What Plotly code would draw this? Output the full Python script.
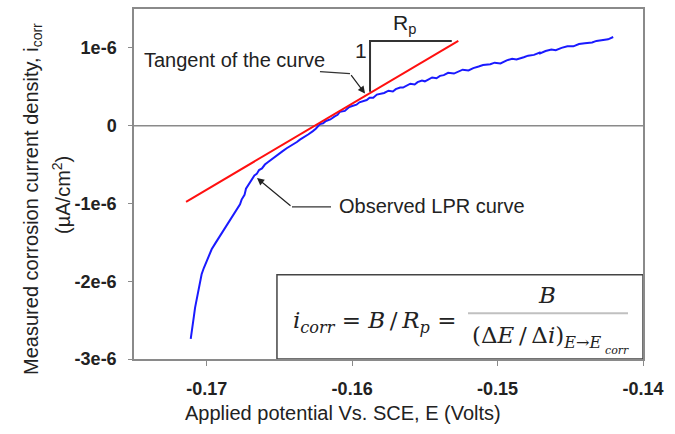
import plotly.graph_objects as go

# Observed LPR curve: applied potential (V) and current density (units of 1e-6)
lpr_E = [-0.1711, -0.17105, -0.1710, -0.17088, -0.1708, -0.17068, -0.1706, -0.17048, -0.17035,
         -0.1702, -0.1700, -0.16985, -0.16966, -0.1694, -0.1692, -0.1689, -0.16863, -0.1684,
         -0.1682, -0.1680, -0.16771, -0.1676, -0.1674, -0.1673, -0.16714, -0.1670, -0.1669,
         -0.16672, -0.16656, -0.1664, -0.1662, -0.1660, -0.1658, -0.1656, -0.1654, -0.16519,
         -0.1650, -0.1648, -0.1645, -0.1643, -0.1640, -0.1638, -0.16359, -0.1633, -0.1630,
         -0.1627, -0.1625, -0.16221, -0.1620, -0.1618, -0.1615, -0.1612, -0.1610, -0.16084,
         -0.1605, -0.1602, -0.1600, -0.1597, -0.1595, -0.1593, -0.1590, -0.1588, -0.15855,
         -0.1583, -0.1580, -0.1578, -0.1575, -0.1572, -0.1570, -0.1567, -0.1565, -0.15625,
         -0.1560, -0.1557, -0.1555, -0.1552, -0.1550, -0.1548, -0.1545, -0.1542, -0.15396,
         -0.1537, -0.1534, -0.1530, -0.1527, -0.1524, -0.1520, -0.15167, -0.1513, -0.1510,
         -0.1505, -0.1502, -0.1498, -0.14937, -0.1490, -0.1487, -0.1482, -0.1479, -0.1475,
         -0.1471, -0.14708, -0.1467, -0.1463, -0.1460, -0.1456, -0.1452, -0.14479, -0.1444,
         -0.1440, -0.1435, -0.1432, -0.1428, -0.1424, -0.14205]
lpr_i = [-2.74, -2.66, -2.58, -2.45, -2.34, -2.22, -2.13, -2.02, -1.91,
         -1.83, -1.74, -1.66, -1.59, -1.51, -1.45, -1.36, -1.28, -1.21,
         -1.15, -1.08, -1.01, -0.95, -0.89, -0.81, -0.76, -0.72, -0.70,
         -0.64, -0.62, -0.57, -0.55, -0.50, -0.47, -0.44, -0.41, -0.38,
         -0.35, -0.33, -0.29, -0.27, -0.23, -0.21, -0.18, -0.15, -0.11,
         -0.07, -0.04, 0.02, 0.03, 0.06, 0.08, 0.12, 0.14, 0.18,
         0.19, 0.24, 0.25, 0.27, 0.30, 0.31, 0.33, 0.36, 0.36,
         0.40, 0.41, 0.42, 0.45, 0.44, 0.47, 0.49, 0.49, 0.51,
         0.54, 0.53, 0.56, 0.58, 0.57, 0.59, 0.62, 0.61, 0.64,
         0.65, 0.68, 0.67, 0.70, 0.72, 0.71, 0.74, 0.76, 0.78,
         0.79, 0.81, 0.80, 0.84, 0.86, 0.85, 0.88, 0.90, 0.91,
         0.94, 0.93, 0.96, 0.98, 0.97, 1.00, 1.02, 1.02, 1.05,
         1.06, 1.07, 1.09, 1.10, 1.11, 1.14]

# Tangent line of the curve
tangent_E = [-0.17142, -0.1527]
tangent_i = [-0.98, 1.09]

# Slope triangle (1 over Rp)
tri_E = [-0.15877, -0.15877, -0.15315]
tri_i = [0.435, 1.087, 1.087]

# Formula box corners
box_E = [-0.16517, -0.140]
box_i = [-3.0, -1.918]

x_ticks = [-0.17, -0.16, -0.15, -0.14]
x_ticktext = ["-0.17", "-0.16", "-0.15", "-0.14"]
y_ticks = [-3, -2, -1, 0, 1]
y_ticktext = ["-3e-6", "-2e-6", "-1e-6", "0", "1e-6"]

W, H = 675, 434
L, R, T, B = 134, 32, 7, 75
PW, PH = W - L - R, H - T - B


def px(xp):
    return (xp - L) / PW


def py(yp):
    return (H - B - yp) / PH


SANS = "Liberation Sans, Arial, sans-serif"
SERIF = "DejaVu Serif, Cambria, serif"
TXT = "#222222"
TS = "\u2009"  # thin space

fig = go.Figure()
fig.add_trace(go.Scatter(x=lpr_E, y=lpr_i, mode="lines",
                         line=dict(color="#1a1aff", width=2), showlegend=False))
fig.add_trace(go.Scatter(x=tangent_E, y=tangent_i, mode="lines",
                         line=dict(color="#ff1010", width=2), showlegend=False))
fig.add_trace(go.Scatter(x=tri_E, y=tri_i, mode="lines",
                         line=dict(color="#333333", width=2), showlegend=False))

shapes = [
    dict(type="line", xref="paper", yref="y", x0=0, x1=1, y0=0, y1=0,
         line=dict(color="#8a8a8a", width=1.5), layer="below"),
    dict(type="rect", xref="x", yref="y", x0=box_E[0], x1=box_E[1], y0=box_i[0], y1=box_i[1],
         line=dict(color="#444444", width=1.5)),
    # leader lines for arrows
    dict(type="line", xref="paper", yref="paper", x0=px(320), x1=px(350), y0=py(70), y1=py(72),
         line=dict(color="#333333", width=1.2)),
    dict(type="line", xref="paper", yref="paper", x0=px(292), x1=px(331), y0=py(206), y1=py(206),
         line=dict(color="#333333", width=1.2)),
    # fraction bar
    dict(type="line", xref="paper", yref="paper", x0=px(468), x1=px(628), y0=py(313), y1=py(313),
         line=dict(color="#c0c0c0", width=2)),
]

annotations = [
    # axis titles
    dict(text="Applied potential Vs. SCE, E (Volts)", xref="paper", yref="paper",
         x=px(343), y=py(413), showarrow=False, font=dict(family=SANS, size=20, color=TXT),
         xanchor="center", yanchor="middle"),
    dict(text="Measured corrosion current density, i<sub>corr</sub>", xref="paper", yref="paper",
         x=px(33), y=py(198), textangle=-90, showarrow=False,
         font=dict(family=SANS, size=20, color=TXT), xanchor="center", yanchor="middle"),
    dict(text="(µA/cm<sup>2</sup>)", xref="paper", yref="paper",
         x=px(62), y=py(194), textangle=-90, showarrow=False,
         font=dict(family=SANS, size=20, color=TXT), xanchor="center", yanchor="middle"),
    # triangle labels
    dict(text="R<sub>p</sub>", xref="paper", yref="paper", x=px(404), y=py(22),
         showarrow=False, font=dict(family=SANS, size=21, color=TXT), xanchor="center", yanchor="middle"),
    dict(text="1", xref="paper", yref="paper", x=px(361), y=py(49),
         showarrow=False, font=dict(family=SANS, size=21, color=TXT), xanchor="center", yanchor="middle"),
    # callouts
    dict(text="Tangent of the curve", xref="paper", yref="paper", x=px(142), y=py(58),
         showarrow=False, font=dict(family=SANS, size=20, color=TXT), xanchor="left", yanchor="middle"),
    dict(text="", xref="paper", yref="paper", x=px(365), y=py(92), ax=-15, ay=-20,
         showarrow=True, arrowhead=2, arrowsize=1.2, arrowwidth=1.2, arrowcolor="#222222"),
    dict(text="Observed LPR curve", xref="paper", yref="paper", x=px(337), y=py(205),
         showarrow=False, font=dict(family=SANS, size=20, color=TXT), xanchor="left", yanchor="middle"),
    dict(text="", xref="paper", yref="paper", x=px(257), y=py(177), ax=35, ay=29,
         showarrow=True, arrowhead=2, arrowsize=1.2, arrowwidth=1.2, arrowcolor="#222222"),
    # formula
    dict(text="<i>i</i><sub><i>corr</i></sub> = <i>B</i>" + TS + "/" + TS + "<i>R</i><sub><i>p</i></sub> =",
         xref="paper", yref="paper", x=px(291), y=py(322), showarrow=False,
         font=dict(family=SERIF, size=23, color=TXT), xanchor="left", yanchor="middle"),
    dict(text="<i>B</i>", xref="paper", yref="paper", x=px(547), y=py(295), showarrow=False,
         font=dict(family=SERIF, size=23, color=TXT), xanchor="center", yanchor="middle"),
    dict(text="(Δ<i>E</i>" + TS + "/" + TS + "Δ<i>i</i>)<sub><i>E</i>→<i>E</i></sub>",
         xref="paper", yref="paper", x=px(470), y=py(337), showarrow=False,
         font=dict(family=SERIF, size=23, color=TXT), xanchor="left", yanchor="middle"),
    dict(text="<i>corr</i>", xref="paper", yref="paper", x=px(603), y=py(350), showarrow=False,
         font=dict(family=SERIF, size=11, color=TXT), xanchor="left", yanchor="middle"),
]

fig.update_layout(
    width=W, height=H,
    margin=dict(l=L, r=R, t=T, b=B),
    paper_bgcolor="white", plot_bgcolor="white",
    shapes=shapes, annotations=annotations,
    xaxis=dict(range=[-0.175, -0.14], tickvals=x_ticks, ticktext=x_ticktext,
               showgrid=False, zeroline=False, showline=True, mirror=True,
               linecolor="#8a8a8a", linewidth=1.5, ticks="outside", ticklen=5,
               tickcolor="#8a8a8a", ticklabelstandoff=8,
               tickfont=dict(family=SANS, size=18, color=TXT, weight="bold")),
    yaxis=dict(range=[-3.0, 1.5], tickvals=y_ticks, ticktext=y_ticktext,
               showgrid=False, zeroline=False, showline=True, mirror=True,
               linecolor="#8a8a8a", linewidth=1.5, ticks="outside", ticklen=4,
               tickcolor="#8a8a8a", ticklabelstandoff=8,
               tickfont=dict(family=SANS, size=18, color=TXT, weight="bold")),
)

fig.write_html("out.html")
